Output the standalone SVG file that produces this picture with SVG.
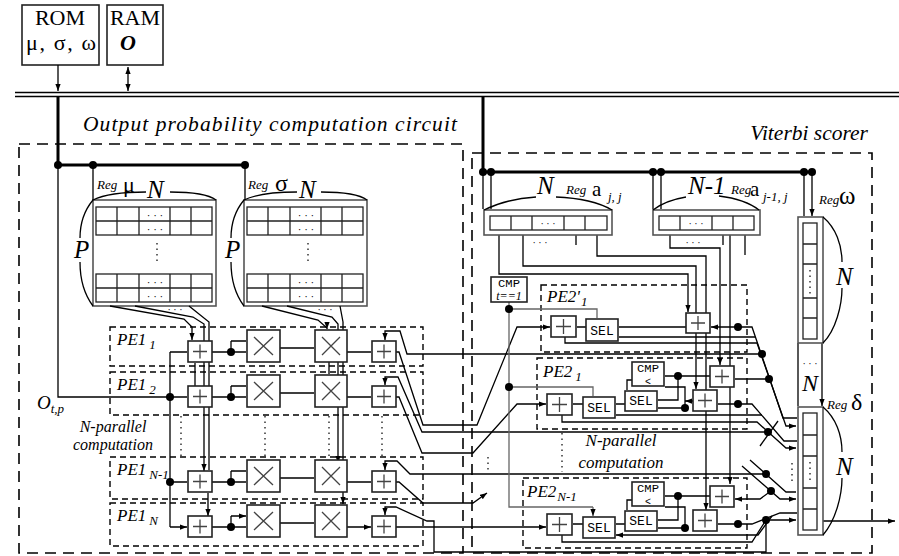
<svg xmlns="http://www.w3.org/2000/svg" width="899" height="556" viewBox="0 0 899 556">
<defs>
<marker id="a" viewBox="0 0 8 6" refX="8" refY="3" markerWidth="7" markerHeight="5.5" orient="auto-start-reverse" markerUnits="userSpaceOnUse"><path d="M0,0 L8,3 L0,6 z" fill="#000"/></marker>
<style>
.s{font-family:"Liberation Serif",serif;fill:#000}
.it{font-family:"Liberation Serif",serif;font-style:italic;fill:#000}
.m{font-family:"Liberation Mono",monospace;fill:#000}
.bx{fill:#fff;stroke:#222;stroke-width:1.6}
.rg{fill:#fff;stroke:#555;stroke-width:1.6}
.cl{fill:none;stroke:#222;stroke-width:1.3}
.w{fill:none;stroke:#000;stroke-width:1.3}
.g{fill:none;stroke:#666;stroke-width:1.3}
.th{fill:none;stroke:#000;stroke-width:3}
.op{fill:none;stroke:#444;stroke-width:1.3}
.d1{fill:none;stroke:#000;stroke-width:1.6;stroke-dasharray:11 7}
.d2{fill:none;stroke:#000;stroke-width:1.4;stroke-dasharray:6 4}
.dt{fill:none;stroke:#000;stroke-width:1.2;stroke-dasharray:1.5 4}
.ar{marker-end:url(#a)}
.dot{fill:#000}
</style>
</defs>
<rect width="899" height="556" fill="#fff"/>

<g id="rom">
<rect class="bx" x="22" y="5" width="77" height="60"/>
<text class="s" x="60" y="25" font-size="22" text-anchor="middle">ROM</text>
<text class="s" x="61" y="50" font-size="22" text-anchor="middle" textLength="70" lengthAdjust="spacing">μ, σ, ω</text>
</g>
<g id="ram">
<rect class="bx" x="107" y="5" width="56" height="60"/>
<text class="s" x="135" y="25" font-size="22" text-anchor="middle">RAM</text>
<text class="it" x="128" y="50" font-size="22" font-weight="bold" text-anchor="middle">O</text>
</g>

<g id="opc-box">
<rect class="d1" x="19" y="144" width="444" height="409"/>
<text class="it" x="83" y="131" font-size="21.5" textLength="374" lengthAdjust="spacing">Output probability computation circuit</text>
</g>
<g id="viterbi-box">
<rect class="d1" x="472" y="153" width="400" height="400"/>
<text class="it" x="868" y="140" font-size="21.5" text-anchor="end">Viterbi scorer</text>
</g>

<g id="reg-mu">
<rect class="rg" x="93" y="200" width="123" height="106"/>
<rect class="cl" x="96" y="207" width="116" height="28"/>
<rect class="cl" x="96" y="274" width="116" height="28"/>
<path class="cl" d="M96,221H212M96,288H212M117,207V235M139,207V235M170,207V235M191,207V235M117,274V302M139,274V302M170,274V302M191,274V302"/>
<text class="s" x="155" y="219" font-size="11" text-anchor="middle">· · ·</text>
<text class="s" x="155" y="233" font-size="11" text-anchor="middle">· · ·</text>
<text class="s" x="155" y="286" font-size="11" text-anchor="middle">· · ·</text>
<text class="s" x="155" y="300" font-size="11" text-anchor="middle">· · ·</text>
<path class="dt" d="M157,243V262"/>
<path class="w" d="M93,200C105,194 125,192 146,192M170,192C190,192 208,194 216,200M93,200C83,212 80,225 80,238M80,262C80,278 84,294 93,306"/>
<text class="it" x="97" y="189" font-size="13">Reg</text>
<text class="s" x="123" y="192" font-size="22">μ</text>
<text class="it" x="147" y="198" font-size="25">N</text>
<text class="it" x="74" y="258" font-size="25">P</text>
</g>
<g id="reg-sigma">
<rect class="rg" x="244" y="200" width="123" height="106"/>
<rect class="cl" x="247" y="207" width="116" height="28"/>
<rect class="cl" x="247" y="274" width="116" height="28"/>
<path class="cl" d="M247,221H363M247,288H363M268,207V235M290,207V235M321,207V235M342,207V235M268,274V302M290,274V302M321,274V302M342,274V302"/>
<text class="s" x="306" y="219" font-size="11" text-anchor="middle">· · ·</text>
<text class="s" x="306" y="233" font-size="11" text-anchor="middle">· · ·</text>
<text class="s" x="306" y="286" font-size="11" text-anchor="middle">· · ·</text>
<text class="s" x="306" y="300" font-size="11" text-anchor="middle">· · ·</text>
<path class="dt" d="M308,243V262"/>
<path class="w" d="M244,200C256,194 276,192 297,192M321,192C341,192 359,194 367,200M244,200C234,212 231,225 231,238M231,262C231,278 235,294 244,306"/>
<text class="it" x="248" y="189" font-size="13">Reg</text>
<text class="s" x="275" y="191" font-size="24">σ</text>
<text class="it" x="299" y="198" font-size="25">N</text>
<text class="it" x="225" y="258" font-size="25">P</text>
</g>

<g id="pe1-1"><rect class="d2" x="110" y="327" width="313" height="39"/><text class="it" x="117" y="345" font-size="17">PE1<tspan font-size="13" dx="3" dy="4">1</tspan></text></g>
<g id="pe1-2"><rect class="d2" x="110" y="372" width="313" height="43"/><text class="it" x="117" y="390" font-size="17">PE1<tspan font-size="13" dx="3" dy="4">2</tspan></text></g>
<g id="pe1-n1"><rect class="d2" x="110" y="457" width="313" height="42"/><text class="it" x="117" y="475" font-size="17">PE1<tspan font-size="13" dx="3" dy="4">N-1</tspan></text></g>
<g id="pe1-n"><rect class="d2" x="110" y="503" width="313" height="43"/><text class="it" x="117" y="521" font-size="17">PE1<tspan font-size="13" dx="3" dy="4">N</tspan></text></g>

<text class="it" x="37" y="409" font-size="19">O<tspan font-size="13" dy="4">t,p</tspan></text>
<text class="it" x="113" y="432" font-size="16" text-anchor="middle">N-parallel</text>
<text class="it" x="113" y="450" font-size="16" text-anchor="middle">computation</text>
<path class="dt" d="M181,416V456M265,416V456M329,416V456M382,416V456"/>

<g id="pe2-1p"><rect class="d2" x="541" y="285" width="206" height="67"/><text class="it" x="547" y="302" font-size="17">PE2'<tspan font-size="13" dx="1" dy="4">1</tspan></text></g>
<g id="pe2-1"><rect class="d2" x="537" y="358" width="210" height="71"/><text class="it" x="543" y="377" font-size="17">PE2<tspan font-size="13" dx="3" dy="4">1</tspan></text></g>
<g id="pe2-n1"><rect class="d2" x="523" y="478" width="224" height="70"/><text class="it" x="527" y="497" font-size="17">PE2<tspan font-size="13" dx="1" dy="4">N-1</tspan></text></g>
<text class="it" x="621" y="446" font-size="17" text-anchor="middle">N-parallel</text>
<text class="it" x="621" y="468" font-size="17" text-anchor="middle">computation</text>
<path class="dt" d="M562,433V472M488,457V472M792,463V482"/>

<g id="connectors">
<path class="w" d="M15,92.5H899M15,96.5H899" stroke-width="1.5"/>
<path class="w ar" d="M58,65V91"/>
<path class="w ar" d="M128,67V91" marker-start="url(#a)"/>
<path class="th" d="M58,97V165H245M483,97V172H812"/>
<path class="w" d="M58,165V397H170"/>
<path class="w ar" d="M93,165V200M245,165V200M483,172V209M491,172V209M653,172V209M661,172V209M804,172V216M812,172V216"/>
<circle class="dot" cx="58" cy="165" r="4"/><circle class="dot" cx="93" cy="165" r="4"/><circle class="dot" cx="245" cy="165" r="4"/>
<circle class="dot" cx="483" cy="172" r="4"/><circle class="dot" cx="491" cy="172" r="4"/><circle class="dot" cx="653" cy="172" r="4"/><circle class="dot" cx="661" cy="172" r="4"/><circle class="dot" cx="804" cy="172" r="4"/><circle class="dot" cx="812" cy="172" r="4"/>

<path class="w" d="M110,306L184,319L192,327V340" marker-end="url(#a)"/>
<path class="w" d="M135,306L193,317L204,324V471" marker-end="url(#a)"/>
<path class="w" d="M189,306L209,322V470"/>
<text class="s" x="175" y="313" font-size="10" text-anchor="middle">· · ·</text>
<path class="w ar" d="M195,363V386M208,493V516"/>
<path class="w" d="M262,306L318,320L327,328V329" marker-end="url(#a)"/>
<path class="w" d="M287,306L332,317L338,324V463" marker-end="url(#a)"/>
<path class="w" d="M340,306L343,322V463"/>
<text class="s" x="325" y="313" font-size="10" text-anchor="middle">· · ·</text>
<path class="w ar" d="M329,362V374M343,484V504"/>
<path class="w" d="M170,352V527"/>
<path class="w ar" d="M170,352H187M170,397H187M170,482H187M170,527H187"/>
<circle class="dot" cx="170" cy="397" r="4"/><circle class="dot" cx="170" cy="482" r="4"/>

<path class="w" d="M212,352H231V341M212,397H231V386M212,482H231V471M212,527H231V516"/>
<path class="w ar" d="M231,352H246M231,341H246M231,397H246M231,386H246M231,482H246M231,471H246M231,527H246M231,516H246"/>
<circle class="dot" cx="231" cy="352" r="4"/><circle class="dot" cx="231" cy="397" r="4"/><circle class="dot" cx="231" cy="482" r="4"/><circle class="dot" cx="231" cy="527" r="4"/>
<path class="w ar" d="M280,348H314M280,393H314M280,478H314M280,523H314M347,352H371M347,397H371M347,482H371M347,527H371"/>

<path class="w ar" d="M762,354H407L400,331H385V340"/>
<path class="w ar" d="M768,432H422L398,377H385V385"/>
<path class="w ar" d="M766,474H410L397,461H385V470"/>
<path class="w ar" d="M766,520V552H434V521H427L396,507H385V515"/>
<path class="w ar" d="M396,352H399L423,425H477L517,327H550"/>
<path class="w ar" d="M396,397H399L422,453H473L517,404H546"/>
<path class="w ar" d="M396,482H399L423,503H473L487,493"/>
<path class="w ar" d="M396,527H546"/>

<path class="w ar" d="M499,235V274H688V312"/>
<path class="w ar" d="M523,235V266H696V389"/>
<path class="w ar" d="M597,235V256H706V510"/>
<path class="w" d="M576,235V245M723,235V245"/>
<path class="w ar" d="M670,235V248H720V365"/>
<path class="w ar" d="M730,235V484"/>
<path class="w" d="M745,235V255"/>

<path class="g" d="M509,302V507H593"/>
<path class="g ar" d="M509,309H597V318M509,387H593V396M593,507V516"/>
<circle class="dot" cx="509" cy="309" r="4"/><circle class="dot" cx="509" cy="387" r="4"/>

<path class="w ar" d="M586,327H577M686,327H619M755,337H619M738,327H711"/>
<path class="w" d="M738,327H752L783,418H797"/>
<path class="w ar" d="M565,337V343H757L786,426H796"/>
<circle class="dot" cx="738" cy="327" r="4"/><circle class="dot" cx="762" cy="354" r="4"/><circle class="dot" cx="769" cy="379" r="4"/>

<path class="w ar" d="M710,376H665M678,376V400H658M685,408H658M685,408V387H665M632,380H627V390M625,404H616M583,404H573M762,415H616M769,379H735M738,404H718M717,401H685"/>
<path class="w" d="M738,404H752L784,441H797"/>
<path class="w ar" d="M562,415V422H757L786,448H796"/>
<circle class="dot" cx="678" cy="376" r="4"/><circle class="dot" cx="685" cy="408" r="4"/><circle class="dot" cx="738" cy="404" r="4"/><circle class="dot" cx="768" cy="432" r="4"/>

<path class="w ar" d="M750,460L786,492H796M742,466L780,499H796"/>
<path class="w" d="M760,446L778,421"/>
<circle class="dot" cx="766" cy="474" r="4"/><circle class="dot" cx="771" cy="491" r="4"/>

<path class="w ar" d="M710,496H665M678,496V520H658M685,528H658M685,528V507H665M632,500H627V510M625,524H616M583,524H573M738,524H718M771,491L760,499H735"/>
<path class="w ar" d="M772,516L758,535H616"/>
<path class="w" d="M738,524H752L780,513H797"/>
<path class="w ar" d="M562,535V542H752L766,520H796"/>
<circle class="dot" cx="678" cy="496" r="4"/><circle class="dot" cx="685" cy="528" r="4"/><circle class="dot" cx="738" cy="524" r="4"/><circle class="dot" cx="766" cy="520" r="4"/>

<path class="w ar" d="M798,343V406M822,343V406"/>
<path class="w ar" d="M823,521H895"/>
</g>

<g id="pe1-ops">
<rect class="bx" x="188" y="341" width="24" height="21"/><rect class="bx" x="188" y="386" width="24" height="21"/><rect class="bx" x="188" y="471" width="24" height="21"/><rect class="bx" x="188" y="516" width="24" height="21"/>
<path class="op" d="M193,351.5H207M200,344.5V358.5M193,396.5H207M200,389.5V403.5M193,481.5H207M200,474.5V488.5M193,526.5H207M200,519.5V533.5"/>
<rect class="bx" x="247" y="330" width="33" height="32"/><rect class="bx" x="247" y="375" width="33" height="32"/><rect class="bx" x="247" y="460" width="33" height="32"/><rect class="bx" x="247" y="505" width="33" height="32"/>
<rect class="bx" x="315" y="330" width="32" height="32"/><rect class="bx" x="315" y="375" width="32" height="32"/><rect class="bx" x="315" y="460" width="32" height="32"/><rect class="bx" x="315" y="505" width="32" height="32"/>
<path class="op" d="M254,337L273,355M273,337L254,355M254,382L273,400M273,382L254,400M254,467L273,485M273,467L254,485M254,512L273,530M273,512L254,530"/>
<path class="op" d="M322,337L340,355M340,337L322,355M322,382L340,400M340,382L322,400M322,467L340,485M340,467L322,485M322,512L340,530M340,512L322,530"/>
<rect class="bx" x="372" y="341" width="24" height="21"/><rect class="bx" x="372" y="386" width="24" height="21"/><rect class="bx" x="372" y="471" width="24" height="21"/><rect class="bx" x="372" y="516" width="24" height="21"/>
<path class="op" d="M377,351.5H391M384,344.5V358.5M377,396.5H391M384,389.5V403.5M377,481.5H391M384,474.5V488.5M377,526.5H391M384,519.5V533.5"/>
</g>

<g id="reg-ajj">
<rect class="rg" x="484" y="210" width="128" height="25"/>
<rect class="cl" x="490" y="216" width="117" height="14"/>
<path class="cl" d="M511,216V230M532,216V230M564,216V230M585,216V230"/>
<text class="s" x="548" y="227" font-size="10" text-anchor="middle">· · ·</text>
<text class="s" x="540" y="246" font-size="10" text-anchor="middle">· · ·</text>
<path class="w" d="M484,210C500,202 520,198 536,197M556,197C580,198 600,203 612,210"/>
<text class="it" x="537" y="194" font-size="25">N</text>
<text class="it" x="566" y="194" font-size="13">Reg</text>
<text class="s" x="592" y="196" font-size="21">a</text>
<text class="it" x="608" y="201" font-size="13">j, j</text>
</g>
<g id="reg-aj1j">
<rect class="rg" x="653" y="210" width="107" height="25"/>
<rect class="cl" x="659" y="216" width="95" height="14"/>
<path class="cl" d="M680,216V230M712,216V230M733,216V230"/>
<text class="s" x="696" y="227" font-size="10" text-anchor="middle">· · ·</text>
<text class="s" x="693" y="246" font-size="10" text-anchor="middle">· · ·</text>
<path class="w" d="M653,210C662,203 674,199 686,197M719,196C735,198 750,203 759,210"/>
<text class="it" x="688" y="194" font-size="25">N-1</text>
<text class="it" x="731" y="194" font-size="13">Reg</text>
<text class="s" x="750" y="196" font-size="21">a</text>
<text class="it" x="763" y="201" font-size="13">j-1, j</text>
</g>
<g id="reg-omega">
<rect class="rg" x="798" y="217" width="25" height="126"/>
<rect class="cl" x="803" y="223" width="14" height="116"/>
<path class="cl" d="M803,244H817M803,264H817M803,298H817M803,318H817"/>
<path class="dt" d="M810,270V294"/>
<path class="w" d="M823,217C836,228 842,245 842,262M842,288C842,305 836,330 823,343"/>
<text class="it" x="836" y="285" font-size="25">N</text>
<text class="it" x="819" y="204" font-size="13">Reg</text>
<text class="s" x="839" y="204" font-size="25">ω</text>
<text class="s" x="810" y="367" font-size="10" text-anchor="middle">· · ·</text>
<text class="it" x="810" y="391" font-size="24" text-anchor="middle">N</text>
</g>
<g id="reg-delta">
<rect class="rg" x="798" y="407" width="25" height="128"/>
<rect class="cl" x="803" y="413" width="14" height="117"/>
<path class="cl" d="M803,435H817M803,456H817M803,488H817M803,509H817"/>
<path class="dt" d="M810,462V484"/>
<path class="w" d="M823,407C836,418 842,435 842,452M842,478C842,495 836,520 823,535"/>
<text class="it" x="836" y="475" font-size="25">N</text>
<text class="it" x="827" y="409" font-size="13">Reg</text>
<text class="s" x="851" y="410" font-size="24">δ</text>
</g>

<g id="cmp-t1">
<rect class="bx" x="491" y="277" width="36" height="25"/>
<text class="m" x="509" y="286.5" font-size="11" text-anchor="middle" textLength="22" lengthAdjust="spacingAndGlyphs">CMP</text>
<text class="it" x="509" y="300" font-size="12" text-anchor="middle">t==1</text>
</g>

<g id="pe2-1p-ops">
<rect class="bx" x="551" y="316" width="25" height="21"/>
<path class="op" d="M556,326.5H571M563.5,319V334"/>
<rect class="bx" x="586" y="319" width="32" height="22"/>
<text class="m" x="602" y="335" font-size="13" text-anchor="middle">SEL</text>
<rect class="bx" x="686" y="313" width="24" height="20"/>
<path class="op" d="M691,323H705M698,316V330"/>
</g>
<g id="pe2-1-ops">
<rect class="bx" x="547" y="394" width="25" height="21"/>
<path class="op" d="M552,404.5H567M559.5,397V412"/>
<rect class="bx" x="583" y="397" width="32" height="21"/>
<text class="m" x="599" y="412" font-size="13" text-anchor="middle">SEL</text>
<rect class="bx" x="625" y="391" width="32" height="20"/>
<text class="m" x="641" y="405" font-size="13" text-anchor="middle">SEL</text>
<rect class="bx" x="632" y="362" width="32" height="24"/>
<text class="m" x="648" y="372" font-size="11" text-anchor="middle" textLength="22" lengthAdjust="spacingAndGlyphs">CMP</text>
<text class="m" x="648" y="385" font-size="10" text-anchor="middle">&lt;</text>
<rect class="bx" x="710" y="366" width="24" height="21"/>
<path class="op" d="M715,376.5H729M722,369.5V383.5"/>
<rect class="bx" x="693" y="390" width="24" height="21"/>
<path class="op" d="M698,400.5H712M705,393.5V407.5"/>
</g>
<g id="pe2-n1-ops">
<rect class="bx" x="547" y="514" width="25" height="21"/>
<path class="op" d="M552,524.5H567M559.5,517V532"/>
<rect class="bx" x="583" y="517" width="32" height="21"/>
<text class="m" x="599" y="532" font-size="13" text-anchor="middle">SEL</text>
<rect class="bx" x="625" y="511" width="32" height="20"/>
<text class="m" x="641" y="525" font-size="13" text-anchor="middle">SEL</text>
<rect class="bx" x="632" y="482" width="32" height="24"/>
<text class="m" x="648" y="492" font-size="11" text-anchor="middle" textLength="22" lengthAdjust="spacingAndGlyphs">CMP</text>
<text class="m" x="648" y="505" font-size="10" text-anchor="middle">&lt;</text>
<rect class="bx" x="710" y="486" width="24" height="21"/>
<path class="op" d="M715,496.5H729M722,489.5V503.5"/>
<rect class="bx" x="693" y="510" width="24" height="21"/>
<path class="op" d="M698,520.5H712M705,513.5V527.5"/>
</g>
</svg>
